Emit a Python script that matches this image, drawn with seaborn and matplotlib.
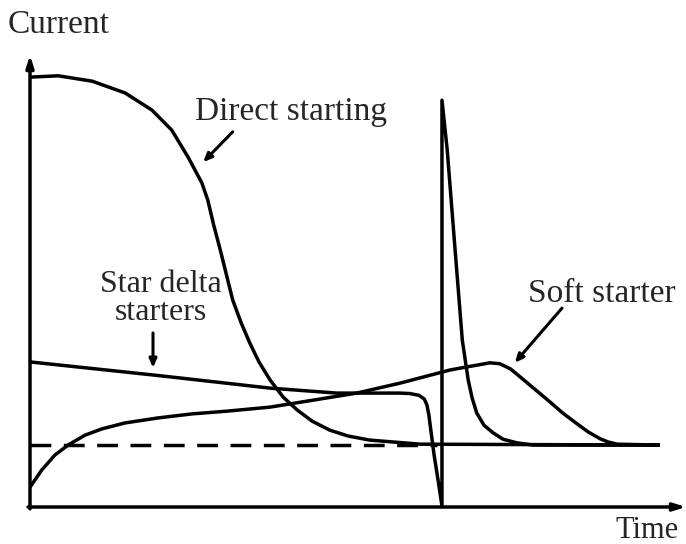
import pandas as pd
import matplotlib.pyplot as plt
import seaborn as sns

sns.set_style('white')
plt.rcParams['font.family'] = ['Liberation Serif', 'DejaVu Serif']

# schematic values (arbitrary units: time 0-10, current 0-10)
direct_t = [0, 0.43, 0.95, 1.45, 1.86, 2.16, 2.41, 2.62, 2.71, 2.80, 2.90, 3.09, 3.22, 3.35,
            3.49, 3.66, 3.86, 4.07, 4.30, 4.57, 4.85, 5.18, 5.95, 9.60]
direct_i = [9.51, 9.54, 9.42, 9.16, 8.78, 8.34, 7.74, 7.17, 6.79, 6.24, 5.69, 4.58, 4.07, 3.63,
            3.21, 2.81, 2.43, 2.15, 1.90, 1.70, 1.57, 1.48, 1.39, 1.37]

star_t = [0, 1.88, 2.13, 3.66, 4.12, 4.68, 5.64, 5.79, 5.93, 6.01, 6.05, 6.08, 6.11, 6.16,
          6.22, 6.28,
          6.28, 6.36, 6.48, 6.59, 6.68, 6.74, 6.81, 6.92, 7.06, 7.21, 7.42, 7.67, 9.60]
star_i = [3.21, 2.92, 2.88, 2.63, 2.58, 2.52, 2.52, 2.51, 2.47, 2.39, 2.26, 2.04, 1.70, 1.15,
          0.60, 0.02,
          9.00, 7.90, 5.69, 3.69, 2.81, 2.41, 2.08, 1.81, 1.64, 1.50, 1.42, 1.37, 1.37]

soft_t = [0, 0.18, 0.38, 0.58, 0.84, 1.10, 1.45, 1.95, 2.47, 3.00, 3.66, 4.98, 5.64, 6.40,
          6.66, 6.86, 7.01, 7.16, 7.32, 7.47, 7.70, 7.93, 8.12, 8.34, 8.51, 8.69, 8.81, 8.95, 9.60]
soft_i = [0.44, 0.82, 1.15, 1.37, 1.59, 1.73, 1.86, 1.97, 2.06, 2.12, 2.21, 2.52, 2.74, 3.03,
          3.10, 3.15, 3.19, 3.17, 3.06, 2.88, 2.60, 2.32, 2.08, 1.84, 1.66, 1.51, 1.44, 1.39, 1.37]

rated_t = [0, 6.2]
rated_i = [1.37, 1.37]

df = pd.concat([
    pd.DataFrame({'t': direct_t, 'i': direct_i, 'curve': 'Direct starting'}),
    pd.DataFrame({'t': star_t, 'i': star_i, 'curve': 'Star delta starters'}),
    pd.DataFrame({'t': soft_t, 'i': soft_i, 'curve': 'Soft starter'}),
], ignore_index=True)

fig = plt.figure(figsize=(6.86, 5.44), dpi=100)
ax = fig.add_axes([30 / 686, 37 / 544, 656 / 686, 452 / 544])

lw = 2.5
sns.lineplot(data=df, x='t', y='i', units='curve', estimator=None, sort=False,
             color='black', lw=lw, ax=ax, solid_joinstyle='round', solid_capstyle='butt')
sns.lineplot(x=rated_t, y=rated_i, color='black', lw=lw, ax=ax,
             linestyle=(0, (6.0, 3.6)), dash_capstyle='butt')

ax.set_xlim(0, 10)
ax.set_ylim(0, 10)
ax.set_xticks([])
ax.set_yticks([])
ax.set_xlabel('')
ax.set_ylabel('')
for s in ax.spines.values():
    s.set_visible(False)

# axes with arrow heads
arrow = dict(arrowstyle='-|>,head_length=0.7,head_width=0.22', lw=lw, color='black',
             shrinkA=0, shrinkB=0)
ax.annotate('', xy=(0, 1.0), xytext=(0, -0.004), xycoords='axes fraction', arrowprops=arrow)
ax.annotate('', xy=(1.0, 0), xytext=(-0.003, 0), xycoords='axes fraction', arrowprops=arrow)

fs = 24
ax.text(2.52, 8.56, 'Direct starting', fontsize=fs, ha='left', va='baseline')
ax.text(2.0, 4.76, 'Star delta', fontsize=23, ha='center', va='baseline')
ax.text(2.0, 4.14, 'starters', fontsize=23, ha='center', va='baseline')
ax.text(7.59, 4.54, 'Soft starter', fontsize=fs, ha='left', va='baseline')

pointer = dict(arrowstyle='-|>,head_length=0.5,head_width=0.22', lw=2.2, color='black',
               shrinkA=0, shrinkB=0)
ax.annotate('', xy=(2.64, 7.63), xytext=(3.09, 8.30), arrowprops=pointer)
ax.annotate('', xy=(1.875, 3.08), xytext=(1.875, 3.85), arrowprops=pointer)
ax.annotate('', xy=(7.39, 3.19), xytext=(8.11, 4.40), arrowprops=pointer)

fig.text(8 / 686, 1 - 33 / 544, 'Current', fontsize=fs, ha='left', va='baseline')
fig.text(616 / 686, 1 - 538 / 544, 'Time', fontsize=22, ha='left', va='baseline')

fig.savefig('out.png', dpi=100)
